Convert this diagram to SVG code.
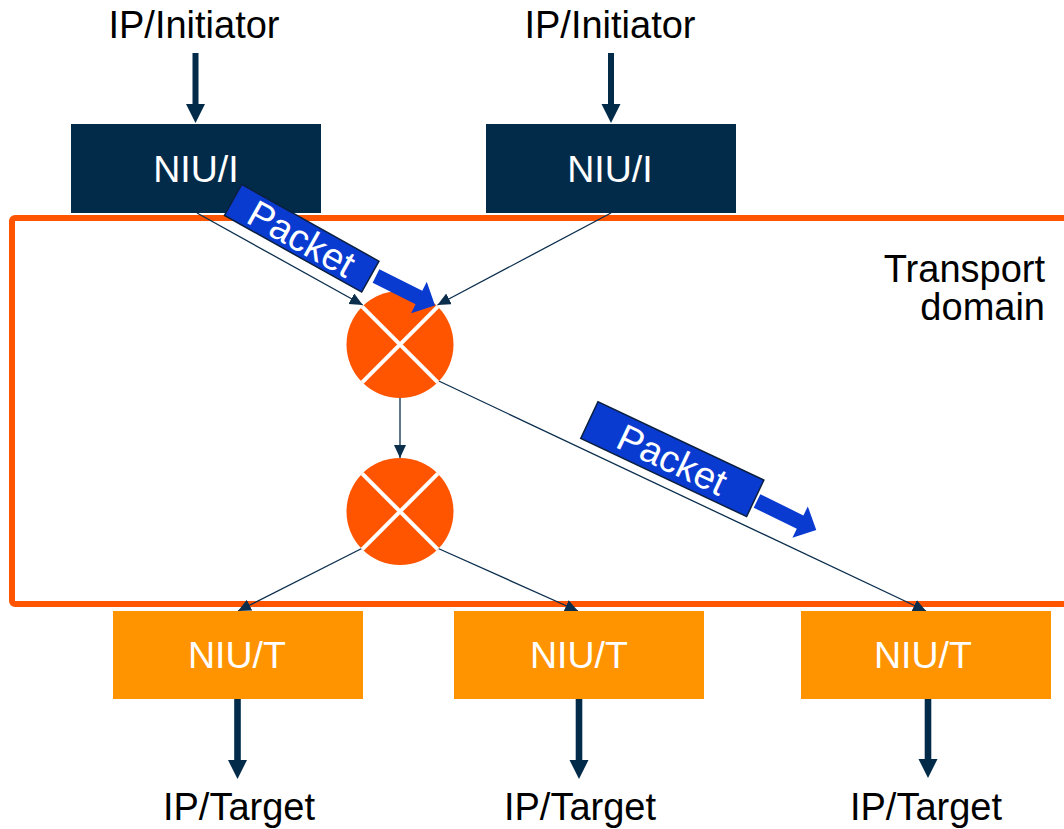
<svg xmlns="http://www.w3.org/2000/svg" width="1064" height="829" viewBox="0 0 1064 829">
  <defs>
    <style>
      .lbl { font-family: "Liberation Sans", Arial, sans-serif; font-size: 38px; fill: #000; }
      .niu-txt { font-family: "Liberation Sans", Arial, sans-serif; font-size: 37.5px; fill: #fff; text-anchor: middle; }
      .pkt-txt { font-family: "Liberation Sans", Arial, sans-serif; font-size: 38px; fill: #fff; text-anchor: middle; }
      .niu-i { fill: #022B4A; }
      .niu-t { fill: #FF9400; }
      .conn { stroke: #0B2E4D; stroke-width: 1.3; fill: none; marker-end: url(#head); }
      .fat { fill: #022B4A; }
      .sw { fill: #FF5500; }
      .sw-x { stroke: #fff; stroke-width: 4; }
      .pkt { fill: #0A3BD1; stroke: #0B2040; stroke-width: 1.5; }
      .pkt-arrow { fill: #0A3BD1; }
    </style>
    <marker id="head" markerUnits="userSpaceOnUse" markerWidth="14" markerHeight="14" refX="13" refY="6" orient="auto">
      <path d="M0,0 L13,6 L0,12 Z" fill="#0B2E4D"/>
    </marker>
    <!-- thick downward arrow, origin at top of shaft -->
    <path id="fatArrow" d="M-3,0 H3 V51 H9.5 L0,70 L-9.5,51 H-3 Z"/>
    <path id="fatArrowLong" d="M-3.3,0 H3.3 V61 H9.5 L0,80 L-9.5,61 H-3.3 Z"/>
    <!-- packet direction arrow, origin at shaft start, pointing along +x -->
    <path id="pktArrow" d="M0,-7.5 H48 V-17.5 L66,0 L48,17.5 V7.5 H0 Z"/>
  </defs>

  <rect width="1064" height="829" fill="#fff"/>

  <!-- transport domain frame -->
  <g id="transport-domain">
    <rect x="12" y="218" width="1100" height="386" rx="3" fill="none" stroke="#FF5500" stroke-width="6"/>
    <text class="lbl" text-anchor="end"><tspan x="1045" y="282">Transport</tspan><tspan x="1045" y="320">domain</tspan></text>
  </g>

  <!-- connectors -->
  <g id="connectors">
    <line class="conn" x1="197" y1="213" x2="362.7" y2="305"/>
    <line class="conn" x1="611" y1="213" x2="437.5" y2="305"/>
    <line class="conn" x1="400" y1="398" x2="400" y2="458"/>
    <line class="conn" x1="436.7" y1="380" x2="926" y2="611"/>
    <line class="conn" x1="361.7" y1="548.5" x2="238" y2="611"/>
    <line class="conn" x1="438.3" y1="548.5" x2="578" y2="611"/>
    <use href="#fatArrow" class="fat" x="195.5" y="53"/>
    <use href="#fatArrow" class="fat" x="611" y="53"/>
    <use href="#fatArrowLong" class="fat" x="237.5" y="699"/>
    <use href="#fatArrowLong" class="fat" x="579" y="699"/>
    <use href="#fatArrowLong" class="fat" x="928" y="698"/>
  </g>

  <!-- IP labels -->
  <g id="ip-initiator-1"><text class="lbl" x="194" y="38" text-anchor="middle">IP/Initiator</text></g>
  <g id="ip-initiator-2"><text class="lbl" x="610" y="38" text-anchor="middle">IP/Initiator</text></g>
  <g id="ip-target-1"><text class="lbl" x="239" y="820" text-anchor="middle">IP/Target</text></g>
  <g id="ip-target-2"><text class="lbl" x="580" y="820" text-anchor="middle">IP/Target</text></g>
  <g id="ip-target-3"><text class="lbl" x="926" y="820" text-anchor="middle">IP/Target</text></g>

  <!-- initiator NIUs -->
  <g id="niu-i-1">
    <rect class="niu-i" x="71" y="124" width="250" height="89"/>
    <text class="niu-txt" x="196" y="182">NIU/I</text>
  </g>
  <g id="niu-i-2">
    <rect class="niu-i" x="486" y="124" width="250" height="89"/>
    <text class="niu-txt" x="610" y="182">NIU/I</text>
  </g>

  <!-- switches -->
  <g id="switch-1">
    <circle class="sw" cx="400" cy="344.5" r="53.5"/>
    <line class="sw-x" x1="362.2" y1="306.7" x2="437.8" y2="382.3"/>
    <line class="sw-x" x1="437.8" y1="306.7" x2="362.2" y2="382.3"/>
  </g>
  <g id="switch-2">
    <circle class="sw" cx="400" cy="511.5" r="53.5"/>
    <line class="sw-x" x1="362.2" y1="473.7" x2="437.8" y2="549.3"/>
    <line class="sw-x" x1="437.8" y1="473.7" x2="362.2" y2="549.3"/>
  </g>

  <!-- target NIUs -->
  <g id="niu-t-1">
    <rect class="niu-t" x="113" y="611" width="250" height="88"/>
    <text class="niu-txt" x="237" y="668">NIU/T</text>
  </g>
  <g id="niu-t-2">
    <rect class="niu-t" x="454" y="611" width="250" height="88"/>
    <text class="niu-txt" x="579" y="668">NIU/T</text>
  </g>
  <g id="niu-t-3">
    <rect class="niu-t" x="801" y="611" width="250" height="88"/>
    <text class="niu-txt" x="923" y="668">NIU/T</text>
  </g>

  <!-- packets in flight -->
  <g id="packet-1">
    <g transform="translate(301.7,238.3) rotate(29.2)">
      <rect class="pkt" x="-78.6" y="-17.7" width="157.2" height="35.4"/>
      <text class="pkt-txt" x="0" y="13.5">Packet</text>
    </g>
    <use href="#pktArrow" class="pkt-arrow" transform="translate(376,276) rotate(26.6)"/>
  </g>
  <g id="packet-2">
    <g transform="translate(672.3,459.2) rotate(25.25)">
      <rect class="pkt" x="-91.7" y="-20.2" width="183.4" height="40.4"/>
      <text class="pkt-txt" x="0" y="13.5">Packet</text>
    </g>
    <use href="#pktArrow" class="pkt-arrow" transform="translate(757,501) rotate(26.1)"/>
  </g>
</svg>
